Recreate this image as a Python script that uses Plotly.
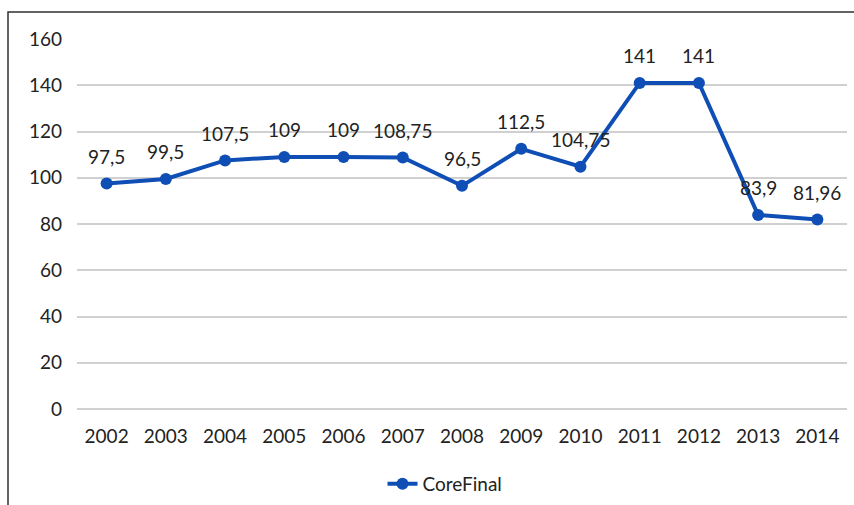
import plotly.graph_objects as go

years = ["2002", "2003", "2004", "2005", "2006", "2007", "2008",
         "2009", "2010", "2011", "2012", "2013", "2014"]
core_final = [97.5, 99.5, 107.5, 109, 109, 108.75, 96.5,
              112.5, 104.75, 141, 141, 83.9, 81.96]
y_ticks = [0, 20, 40, 60, 80, 100, 120, 140, 160]

labels = [f"{v:g}".replace(".", ",") for v in core_final]

blue = "#0F4EB5"
font_family = "Lato, 'Open Sans', sans-serif"
text_color = "#222222"
fsize = 19

fig = go.Figure()
fig.add_trace(go.Scatter(
    x=years, y=core_final, name="CoreFinal",
    mode="lines+markers",
    line=dict(color=blue, width=4),
    marker=dict(color=blue, size=12),
))

# value labels sitting above each point (x given as category index)
for i, (val, lab) in enumerate(zip(core_final, labels)):
    fig.add_annotation(x=i, y=val, xref="x", yref="y", text=lab,
                       showarrow=False, yshift=27, yanchor="middle",
                       font=dict(family=font_family, size=fsize, color=text_color))

fig.update_layout(
    width=854, height=505,
    margin=dict(l=77, r=7, t=39, b=96, autoexpand=False),
    paper_bgcolor="white", plot_bgcolor="white",
    font=dict(family=font_family, size=fsize, color=text_color),
    showlegend=True,
    legend=dict(orientation="h", xref="container", yref="container",
                x=445 / 854, y=1 - 484 / 505, xanchor="center",
                yanchor="middle", font=dict(size=fsize, color=text_color)),
    xaxis=dict(type="category", range=[-0.5, 12.5], showgrid=False,
               showline=False, ticks="", ticklabelstandoff=14,
               automargin=False),
    yaxis=dict(range=[0, 160], tickvals=y_ticks, showgrid=True,
               gridcolor="#D0D0D0", gridwidth=1.5, zeroline=True,
               zerolinecolor="#D0D0D0", zerolinewidth=1.5,
               showline=False, ticks="", ticklabelstandoff=14,
               automargin=False),
    shapes=[dict(type="rect", xref="paper", yref="paper",
                 x0=-69 / 770, x1=1.2, y0=-0.5, y1=1 + 27 / 370,
                 line=dict(color="#303030", width=1.5),
                 fillcolor="rgba(0,0,0,0)", layer="above")],
)

fig.write_html("out.html")
